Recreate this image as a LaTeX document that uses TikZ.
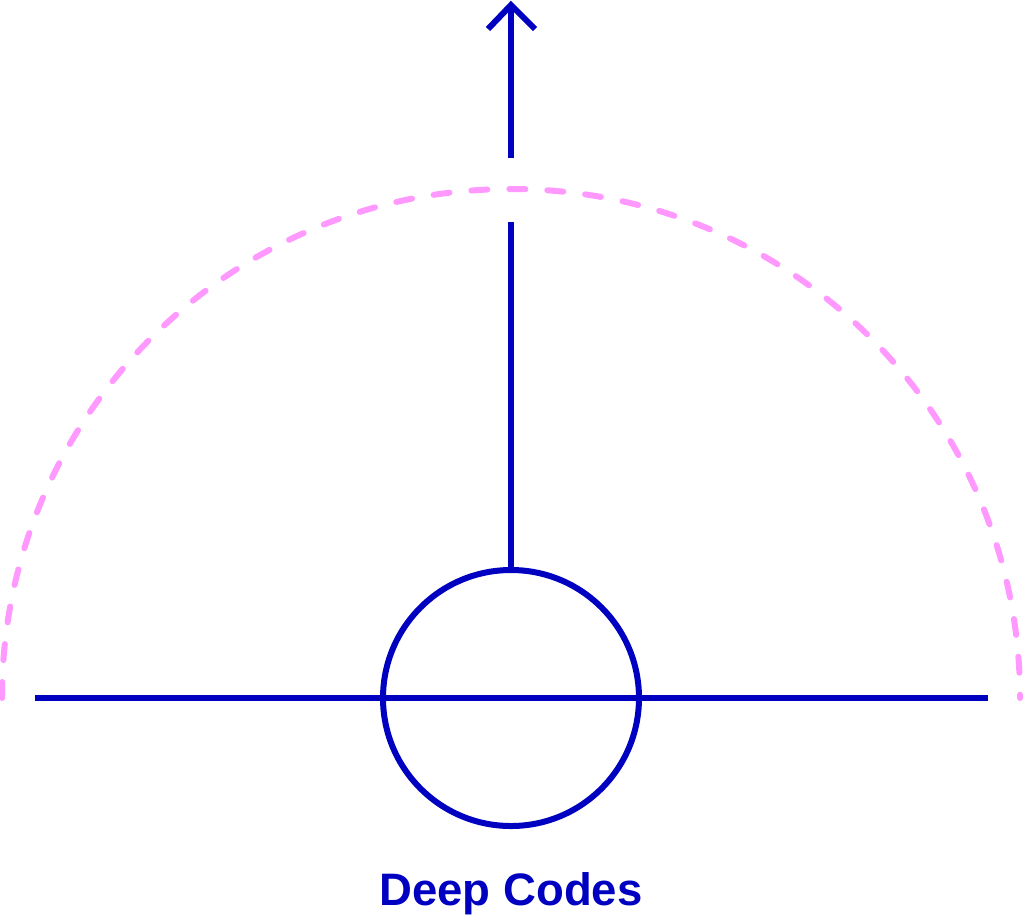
\documentclass[tikz,border=0pt]{standalone}
\usepackage{fontspec}
\setmainfont{Liberation Sans}
\definecolor{dblue}{RGB}{0,0,192}
\definecolor{dpink}{RGB}{255,153,255}
\begin{document}
\begin{tikzpicture}[x=1pt,y=-1pt,
  blueline/.style={draw=dblue,line width=6pt},
  pinkdash/.style={draw=dpink,line width=6pt,line cap=round,dash pattern=on 16pt off 22pt},
  lbl/.style={text=dblue,font=\bfseries\fontsize{45.5}{52}\selectfont,inner sep=0pt,anchor=base}]
\useasboundingbox (0,0) rectangle (1024,922);
\coordinate (c) at (511,698);
\coordinate (hl) at (35,698);
\coordinate (hr) at (988,698);
\coordinate (vtop) at (511,222);
\coordinate (atail) at (511,158);
\coordinate (ahead) at (511,5);
\coordinate (aleft) at (488,29);
\coordinate (aright) at (535,29);
% dashed arc
\draw[pinkdash] (2,698) arc[start angle=180,end angle=360,radius=509];
% horizontal line
\draw[blueline] (hl) -- (hr);
% circle
\node[blueline,circle,minimum size=256pt,inner sep=0pt] (circ) at (c) {};
% vertical line
\draw[blueline] (circ.north) -- (vtop);
% arrow
\draw[blueline] (atail) -- (ahead);
\draw[blueline,miter limit=10] (aleft) -- (ahead) -- (aright);
\node[lbl] (title) at (511,905) {Deep Codes};
\end{tikzpicture}
\end{document}
